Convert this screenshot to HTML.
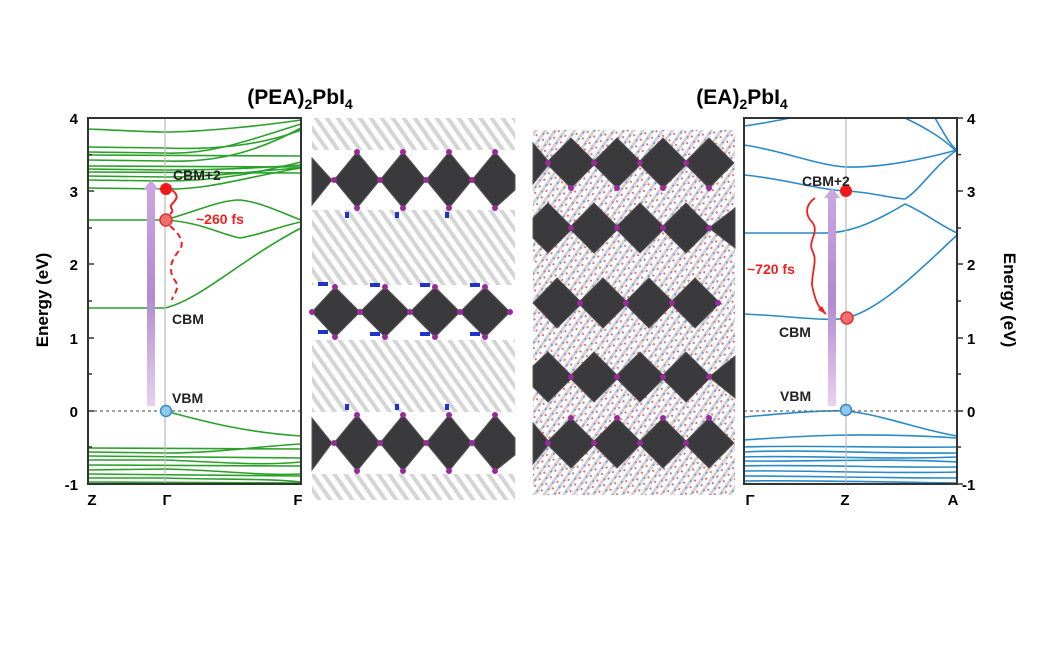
<!DOCTYPE html>
<html><head><meta charset="utf-8"><style>
html,body{margin:0;padding:0;background:#fff;}
svg{display:block;font-family:"Liberation Sans",Arial,sans-serif;font-weight:bold;}
</style></head><body>
<svg width="1050" height="650" viewBox="0 0 1050 650" xmlns="http://www.w3.org/2000/svg">
<defs>
<linearGradient id="pur" x1="0" y1="1" x2="0" y2="0">
<stop offset="0" stop-color="#e6d2f0"/><stop offset="0.5" stop-color="#b48ad0"/><stop offset="1" stop-color="#c9a6e0"/></linearGradient>
<pattern id="org" width="9" height="9" patternUnits="userSpaceOnUse" patternTransform="rotate(-35)">
<rect width="9" height="9" fill="#fff"/><rect width="4" height="9" fill="#8a8a8a" opacity="0.6"/></pattern>
<pattern id="org2" width="8" height="8" patternUnits="userSpaceOnUse" patternTransform="rotate(35)">
<rect width="8" height="8" fill="#fff"/><rect width="3" height="8" fill="#777" opacity="0.5"/><rect x="4" y="2" width="2" height="2" fill="#e02020"/><rect x="1" y="5" width="2" height="2" fill="#2030c0" opacity="0.7"/></pattern>
</defs>

<text x="300" y="104" font-size="21" text-anchor="middle">(PEA)<tspan font-size="14" dy="5">2</tspan><tspan dy="-5">PbI</tspan><tspan font-size="14" dy="5">4</tspan></text>
<text x="742" y="104" font-size="21" text-anchor="middle">(EA)<tspan font-size="14" dy="5">2</tspan><tspan dy="-5">PbI</tspan><tspan font-size="14" dy="5">4</tspan></text>

<!-- LEFT PLOT -->
<g fill="none" stroke="#2aa02a" stroke-width="1.6">
<path d="M88 129 C130 131 150 132 165 132 C200 132 260 126 301 120"/>
<path d="M88 147 L165 148 C210 150 260 146 301 130"/>
<path d="M88 152 L165 153 C210 155 250 140 301 124"/>
<path d="M88 155 L301 156"/>
<path d="M88 160 L165 161 C220 163 260 150 301 128"/>
<path d="M88 166 L301 167"/>
<path d="M88 169 L165 170 C220 170 260 168 301 165"/>
<path d="M88 172 L301 173"/>
<path d="M88 176 L165 177 C220 177 260 170 301 168"/>
<path d="M88 180 L165 181 C220 181 260 172 301 162"/>
<path d="M88 188 L165 189 C210 190 250 176 301 168"/>
<path d="M88 220 L165 220 C200 210 220 200 240 200 C260 202 280 212 301 220"/>
<path d="M165 220 C200 222 220 234 240 238 C260 235 280 226 301 222"/>
<path d="M88 308 L165 308 C200 300 240 260 301 228"/>
<path d="M165 411 C200 420 240 432 301 436"/>
<path d="M88 448 L301 449"/>
<path d="M88 452 L165 453 C220 453 260 446 301 444"/>
<path d="M88 456 L301 458"/>
<path d="M88 460 L165 460 C220 462 260 466 301 462"/>
<path d="M88 465 L301 466"/>
<path d="M88 470 L165 469 C220 470 260 476 301 474"/>
<path d="M88 474 L301 476"/>
<path d="M88 478 L165 478 C220 480 260 478 301 482"/>
<path d="M88 482 L301 483"/>
</g>
<line x1="165" y1="118" x2="165" y2="484" stroke="#bbb" stroke-width="1.2"/>
<line x1="88" y1="411" x2="301" y2="411" stroke="#666" stroke-width="1.2" stroke-dasharray="3,3"/>
<rect x="88" y="118" width="213" height="366" fill="none" stroke="#333" stroke-width="2"/>
<g stroke="#333" stroke-width="1.5">
<line x1="88" y1="118" x2="94" y2="118"/><line x1="88" y1="154.6" x2="92" y2="154.6"/>
<line x1="88" y1="191" x2="94" y2="191"/><line x1="88" y1="228" x2="92" y2="228"/>
<line x1="88" y1="264" x2="94" y2="264"/><line x1="88" y1="301" x2="92" y2="301"/>
<line x1="88" y1="338" x2="94" y2="338"/><line x1="88" y1="374" x2="92" y2="374"/>
<line x1="88" y1="411" x2="94" y2="411"/><line x1="88" y1="447" x2="92" y2="447"/>
</g>
<g font-size="15" text-anchor="end">
<text x="78" y="124">4</text><text x="78" y="197">3</text><text x="78" y="270">2</text>
<text x="78" y="344">1</text><text x="78" y="417">0</text><text x="78" y="490">-1</text>
</g>
<text transform="translate(48 300) rotate(-90)" font-size="17" text-anchor="middle">Energy (eV)</text>
<g font-size="15" text-anchor="middle">
<text x="92" y="505">Z</text><text x="167" y="505">Γ</text><text x="298" y="505">F</text>
</g>
<rect x="147" y="188" width="8" height="218" fill="url(#pur)"/>
<polygon points="143,190 151,180 159,190" fill="#c9a6e0"/>
<path d="M172 190 C180 196 176 200 172 204 C168 208 176 210 170 214" fill="none" stroke="#f02020" stroke-width="2"/>
<path d="M170 226 C180 234 186 244 178 252 C170 262 168 272 176 282 C180 290 172 296 172 300" fill="none" stroke="#f02020" stroke-width="2" stroke-dasharray="6,4"/>
<circle cx="166" cy="189" r="6" fill="#f01818"/>
<circle cx="166" cy="220" r="6" fill="#f07070" stroke="#e03030" stroke-width="1.5"/>
<circle cx="166" cy="411" r="5.5" fill="#8ec8ec" stroke="#3a8ac0" stroke-width="1.5"/>
<text x="173" y="180" font-size="14" fill="#222">CBM+2</text>
<text x="196" y="224" font-size="14" fill="#f02020">~260 fs</text>
<text x="172" y="324" font-size="14" fill="#222">CBM</text>
<text x="172" y="403" font-size="14" fill="#222">VBM</text>

<!-- RIGHT PLOT -->
<g fill="none" stroke="#2a8ac8" stroke-width="1.6">
<path d="M744 126 C760 124 780 120 790 118"/>
<path d="M905 118 C930 130 945 140 957 152"/>
<path d="M935 118 C945 135 950 145 957 150"/>
<path d="M744 145 C780 150 820 166 846 167 C880 168 920 160 957 150"/>
<path d="M744 175 C780 178 820 190 846 191 C870 192 890 198 905 199 C920 190 935 165 957 150"/>
<path d="M744 233 L820 233 C846 234 870 225 905 204 C920 210 940 225 957 233"/>
<path d="M744 314 C790 316 830 322 846 318 C880 310 920 270 957 235"/>
<path d="M744 417 C780 414 820 410 846 411 C880 414 920 430 957 436"/>
<path d="M744 440 C800 436 860 432 957 438"/>
<path d="M744 447 C800 445 880 448 957 447"/>
<path d="M744 452 C800 449 880 454 957 453"/>
<path d="M744 457 C800 455 880 460 957 457"/>
<path d="M744 461 C800 462 880 458 957 462"/>
<path d="M744 466 C800 464 880 468 957 467"/>
<path d="M744 471 C800 470 880 474 957 472"/>
<path d="M744 476 C800 476 880 478 957 478"/>
<path d="M744 481 C800 480 880 482 957 483"/>
</g>
<line x1="846" y1="118" x2="846" y2="484" stroke="#bbb" stroke-width="1.2"/>
<line x1="744" y1="411" x2="957" y2="411" stroke="#666" stroke-width="1.2" stroke-dasharray="3,3"/>
<rect x="744" y="118" width="213" height="366" fill="none" stroke="#333" stroke-width="2"/>
<g stroke="#333" stroke-width="1.5">
<line x1="957" y1="118" x2="963" y2="118"/><line x1="957" y1="154.6" x2="961" y2="154.6"/>
<line x1="957" y1="191" x2="963" y2="191"/><line x1="957" y1="228" x2="961" y2="228"/>
<line x1="957" y1="264" x2="963" y2="264"/><line x1="957" y1="301" x2="961" y2="301"/>
<line x1="957" y1="338" x2="963" y2="338"/><line x1="957" y1="374" x2="961" y2="374"/>
<line x1="957" y1="411" x2="963" y2="411"/><line x1="957" y1="447" x2="961" y2="447"/>
<line x1="957" y1="484" x2="963" y2="484"/>
</g>
<g font-size="15" text-anchor="start">
<text x="967" y="124">4</text><text x="967" y="197">3</text><text x="967" y="270">2</text>
<text x="967" y="344">1</text><text x="967" y="417">0</text><text x="962" y="490">-1</text>
</g>
<text transform="translate(1004 300) rotate(90)" font-size="17" text-anchor="middle">Energy (eV)</text>
<g font-size="15" text-anchor="middle">
<text x="750" y="505">Γ</text><text x="845" y="505">Z</text><text x="953" y="505">A</text>
</g>
<rect x="828" y="196" width="8" height="210" fill="url(#pur)"/>
<polygon points="824,198 832,188 840,198" fill="#c9a6e0"/>
<path d="M815 198 C805 205 805 215 812 222 C820 232 808 240 812 250 C818 260 812 270 812 285 C815 300 818 308 826 314" fill="none" stroke="#f02020" stroke-width="1.8"/>
<polygon points="826,314 818,310 822,306" fill="#f02020"/>
<circle cx="846" cy="191" r="6" fill="#f01818"/>
<circle cx="847" cy="318" r="6" fill="#f07070" stroke="#e03030" stroke-width="1.5"/>
<circle cx="846" cy="410" r="5.5" fill="#8ec8ec" stroke="#3a8ac0" stroke-width="1.5"/>
<text x="802" y="186" font-size="14" fill="#222">CBM+2</text>
<text x="747" y="274" font-size="14" fill="#f02020">~720 fs</text>
<text x="779" y="337" font-size="14" fill="#222">CBM</text>
<text x="780" y="401" font-size="14" fill="#222">VBM</text>

<!-- LEFT CRYSTAL -->
<g>
<rect x="312" y="118" width="203" height="382" fill="url(#org)" opacity="0.6"/>
<rect x="312" y="150" width="203" height="60" fill="#fff"/>
<rect x="312" y="285" width="203" height="55" fill="#fff"/>
<rect x="312" y="412" width="203" height="62" fill="#fff"/>
<g fill="#3a3a3c" stroke="#555" stroke-width="1">
<polygon points="312,158 332,180 312,205"/>
<polygon points="357,152 380,180 357,208 334,180"/>
<polygon points="403,152 426,180 403,208 380,180"/>
<polygon points="449,152 472,180 449,208 426,180"/>
<polygon points="495,152 515,175 515,190 495,208 472,180"/>
<polygon points="335,287 360,312 335,337 312,312"/>
<polygon points="385,287 410,312 385,337 360,312"/>
<polygon points="435,287 460,312 435,337 410,312"/>
<polygon points="485,287 510,312 485,337 460,312"/>
<polygon points="312,418 332,443 312,470"/>
<polygon points="357,415 380,443 357,471 334,443"/>
<polygon points="403,415 426,443 403,471 380,443"/>
<polygon points="449,415 472,443 449,471 426,443"/>
<polygon points="495,415 515,438 515,455 495,471 472,443"/>
</g>
<g fill="#9a2a9a">
<circle cx="334" cy="180" r="3"/><circle cx="380" cy="180" r="3"/><circle cx="426" cy="180" r="3"/><circle cx="472" cy="180" r="3"/>
<circle cx="357" cy="152" r="3"/><circle cx="403" cy="152" r="3"/><circle cx="449" cy="152" r="3"/><circle cx="495" cy="152" r="3"/>
<circle cx="357" cy="208" r="3"/><circle cx="403" cy="208" r="3"/><circle cx="449" cy="208" r="3"/><circle cx="495" cy="208" r="3"/>
<circle cx="312" cy="312" r="3"/><circle cx="360" cy="312" r="3"/><circle cx="410" cy="312" r="3"/><circle cx="460" cy="312" r="3"/><circle cx="510" cy="312" r="3"/>
<circle cx="335" cy="287" r="3"/><circle cx="385" cy="287" r="3"/><circle cx="435" cy="287" r="3"/><circle cx="485" cy="287" r="3"/>
<circle cx="335" cy="337" r="3"/><circle cx="385" cy="337" r="3"/><circle cx="435" cy="337" r="3"/><circle cx="485" cy="337" r="3"/>
<circle cx="334" cy="443" r="3"/><circle cx="380" cy="443" r="3"/><circle cx="426" cy="443" r="3"/><circle cx="472" cy="443" r="3"/>
<circle cx="357" cy="415" r="3"/><circle cx="403" cy="415" r="3"/><circle cx="449" cy="415" r="3"/><circle cx="495" cy="415" r="3"/>
<circle cx="357" cy="471" r="3"/><circle cx="403" cy="471" r="3"/><circle cx="449" cy="471" r="3"/><circle cx="495" cy="471" r="3"/>
</g>
<g fill="#2233cc">
<rect x="318" y="282" width="10" height="4"/><rect x="370" y="283" width="10" height="4"/><rect x="420" y="283" width="10" height="4"/><rect x="470" y="283" width="10" height="4"/>
<rect x="318" y="330" width="10" height="4"/><rect x="370" y="332" width="10" height="4"/><rect x="420" y="332" width="10" height="4"/><rect x="470" y="332" width="10" height="4"/>
<rect x="345" y="212" width="4" height="6"/><rect x="395" y="212" width="4" height="6"/><rect x="445" y="212" width="4" height="6"/>
<rect x="345" y="404" width="4" height="6"/><rect x="395" y="404" width="4" height="6"/><rect x="445" y="404" width="4" height="6"/>
</g>
</g>

<!-- RIGHT CRYSTAL -->
<g>
<rect x="533" y="130" width="202" height="365" fill="url(#org2)" opacity="0.65"/>
<g fill="#3a3a3c" stroke="#555" stroke-width="1">
<polygon points="533,143 550,163 533,184"/>
<polygon points="571,138 596,163 571,188 546,163"/>
<polygon points="617,138 642,163 617,188 592,163"/>
<polygon points="663,138 688,163 663,188 638,163"/>
<polygon points="709,138 734,163 709,188 684,163"/>
<polygon points="548,203 573,228 548,253 533,238 533,218"/>
<polygon points="594,203 619,228 594,253 569,228"/>
<polygon points="640,203 665,228 640,253 615,228"/>
<polygon points="686,203 711,228 686,253 661,228"/>
<polygon points="735,208 735,248 709,228"/>
<polygon points="557,278 582,303 557,328 533,303"/>
<polygon points="603,278 628,303 603,328 578,303"/>
<polygon points="649,278 674,303 649,328 624,303"/>
<polygon points="695,278 720,303 695,328 670,303"/>
<polygon points="548,352 573,377 548,402 533,387 533,366"/>
<polygon points="594,352 619,377 594,402 569,377"/>
<polygon points="640,352 665,377 640,402 615,377"/>
<polygon points="686,352 711,377 686,402 661,377"/>
<polygon points="735,356 735,398 709,377"/>
<polygon points="533,423 550,443 533,464"/>
<polygon points="571,418 596,443 571,468 546,443"/>
<polygon points="617,418 642,443 617,468 592,443"/>
<polygon points="663,418 688,443 663,468 638,443"/>
<polygon points="709,418 734,443 709,468 684,443"/>
</g>
<g fill="#9a2a9a">
<circle cx="548" cy="163" r="3"/><circle cx="594" cy="163" r="3"/><circle cx="640" cy="163" r="3"/><circle cx="686" cy="163" r="3"/>
<circle cx="571" cy="228" r="3"/><circle cx="617" cy="228" r="3"/><circle cx="663" cy="228" r="3"/><circle cx="709" cy="228" r="3"/>
<circle cx="580" cy="303" r="3"/><circle cx="626" cy="303" r="3"/><circle cx="672" cy="303" r="3"/><circle cx="718" cy="303" r="3"/>
<circle cx="571" cy="377" r="3"/><circle cx="617" cy="377" r="3"/><circle cx="663" cy="377" r="3"/><circle cx="709" cy="377" r="3"/>
<circle cx="548" cy="443" r="3"/><circle cx="594" cy="443" r="3"/><circle cx="640" cy="443" r="3"/><circle cx="686" cy="443" r="3"/>
<circle cx="571" cy="188" r="3"/><circle cx="617" cy="188" r="3"/><circle cx="663" cy="188" r="3"/><circle cx="709" cy="188" r="3"/>
<circle cx="571" cy="418" r="3"/><circle cx="617" cy="418" r="3"/><circle cx="663" cy="418" r="3"/><circle cx="709" cy="418" r="3"/>
</g>
</g>
</svg>
</body></html>
